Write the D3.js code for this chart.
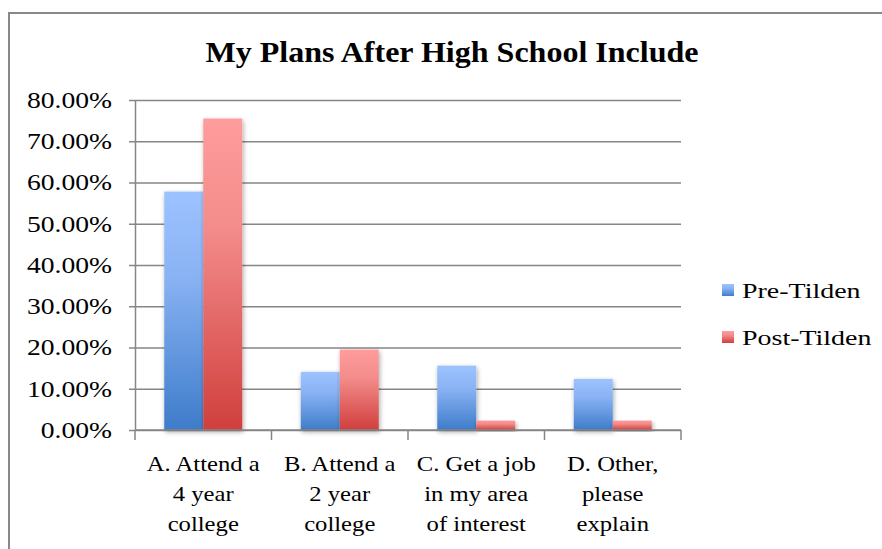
<!DOCTYPE html>
<html>
  <head>
    <meta charset="utf-8" />
    <script src="https://d3js.org/d3.v7.min.js"></script>
    <title>My Plans After High School Include</title>
    <style>
      body { margin: 0; background: #fff; }
      text { font-family: "Liberation Serif", "DejaVu Serif", serif; fill: #000; }
      .grid line { stroke: #868686; stroke-width: 1.5px; }
      .axis path, .axis line { stroke: #868686; stroke-width: 1.5px; }
    </style>
  </head>
  <body>

    <svg id="chart" width="882" height="549"></svg>

    <script>

      var categories = [
        ["A. Attend a", "4 year", "college"],
        ["B. Attend a", "2 year", "college"],
        ["C. Get a job", "in my area", "of interest"],
        ["D. Other,", "please", "explain"]
      ];
      var seriesNames = ["Pre-Tilden", "Post-Tilden"];
      var preTilden = [0.578, 0.141, 0.156, 0.124];
      var postTilden = [0.755, 0.195, 0.023, 0.023];
      var yTicks = [0, 0.1, 0.2, 0.3, 0.4, 0.5, 0.6, 0.7, 0.8];

      var svg = d3.select("#chart");

      // the original font is wider than Liberation Serif, so stretch texts a bit
      function widen(sel, factor) {
        sel.each(function() {
          var w = this.getComputedTextLength();
          d3.select(this)
            .attr("textLength", w * factor)
            .attr("lengthAdjust", "spacingAndGlyphs");
        });
      }

      // outer frame (only top/left edge visible in the original)
      svg.append("rect")
        .attr("x", 9).attr("y", 13)
        .attr("width", 900).attr("height", 600)
        .attr("fill", "none")
        .attr("stroke", "#888")
        .attr("stroke-width", 2);

      var plotLeft = 135, plotRight = 681, plotTop = 100, plotBottom = 430;

      var x = d3.scaleBand()
        .domain(d3.range(categories.length))
        .range([plotLeft, plotRight]);
      // Excel gap width 150%: 2 bars of width w and a gap of 1.5w per category
      var catW = x.bandwidth();
      var barW = catW / 3.5;

      var y = d3.scaleLinear().domain([0, 0.8]).range([plotBottom, plotTop]);

      var defs = svg.append("defs");
      var g1 = defs.append("linearGradient").attr("id", "gradBlue")
        .attr("x1", 0).attr("y1", 0).attr("x2", 0).attr("y2", 1);
      g1.append("stop").attr("offset", "0%").attr("stop-color", "#9dc3ff");
      g1.append("stop").attr("offset", "35%").attr("stop-color", "#8ab3f4");
      g1.append("stop").attr("offset", "100%").attr("stop-color", "#3e7cca");
      var g2 = defs.append("linearGradient").attr("id", "gradRed")
        .attr("x1", 0).attr("y1", 0).attr("x2", 0).attr("y2", 1);
      g2.append("stop").attr("offset", "0%").attr("stop-color", "#ff9c9c");
      g2.append("stop").attr("offset", "35%").attr("stop-color", "#f38c8b");
      g2.append("stop").attr("offset", "100%").attr("stop-color", "#d03f3d");

      var shadow = defs.append("filter").attr("id", "shadow")
        .attr("x", "-20%").attr("y", "-10%").attr("width", "150%").attr("height", "130%");
      shadow.append("feGaussianBlur").attr("in", "SourceAlpha").attr("stdDeviation", 2.5);
      shadow.append("feOffset").attr("dx", 1).attr("dy", 2).attr("result", "blur");
      shadow.append("feComponentTransfer").append("feFuncA").attr("type", "linear").attr("slope", 0.35);
      var merge = shadow.append("feMerge");
      merge.append("feMergeNode");
      merge.append("feMergeNode").attr("in", "SourceGraphic");

      // gridlines
      svg.append("g")
        .attr("class", "grid")
        .attr("transform", "translate(" + plotLeft + ",0)")
        .call(d3.axisLeft(y).tickValues(yTicks).tickSize(-(plotRight - plotLeft)).tickFormat(""))
        .call(function(g) { g.select(".domain").remove(); });

      // y axis
      svg.append("g")
        .attr("class", "axis")
        .attr("transform", "translate(" + plotLeft + ",0)")
        .call(d3.axisLeft(y).tickValues(yTicks).tickSize(6).tickSizeOuter(0).tickPadding(17)
          .tickFormat(function(d) { return (d * 100).toFixed(2) + "%"; }))
        .selectAll("text")
        .attr("font-size", 23)
        .attr("font-family", "Liberation Serif, DejaVu Serif, serif")
        .call(widen, 1.2);

      // bars
      var groups = svg.append("g").selectAll("g")
        .data(categories.map(function(c, i) { return [preTilden[i], postTilden[i]]; }))
        .enter().append("g")
        .attr("transform", function(d, i) { return "translate(" + x(i) + ",0)"; });

      groups.selectAll("rect")
        .data(function(d) { return d; })
        .enter().append("rect")
        .attr("x", function(d, j) { return barW * 0.75 + j * barW; })
        .attr("y", function(d) { return y(d); })
        .attr("width", barW)
        .attr("height", function(d) { return y(0) - y(d); })
        .attr("fill", function(d, j) { return j === 0 ? "url(#gradBlue)" : "url(#gradRed)"; })
        .attr("filter", "url(#shadow)");

      // x axis with category boundary ticks
      var xAxis = svg.append("g").attr("class", "axis");
      xAxis.append("line")
        .attr("x1", plotLeft).attr("x2", plotRight)
        .attr("y1", plotBottom).attr("y2", plotBottom);
      xAxis.selectAll(".tk")
        .data(d3.range(categories.length + 1))
        .enter().append("line")
        .attr("class", "tk")
        .attr("x1", function(i) { return plotLeft + i * catW; })
        .attr("x2", function(i) { return plotLeft + i * catW; })
        .attr("y1", plotBottom).attr("y2", plotBottom + 10);

      var labels = svg.append("g").selectAll("text")
        .data(categories)
        .enter().append("text")
        .attr("text-anchor", "middle")
        .attr("font-size", 22)
        .attr("x", function(d, i) { return x(i) + catW / 2; })
        .attr("y", 471);
      labels.selectAll("tspan")
        .data(function(d) { return d; })
        .enter().append("tspan")
        .attr("x", function() { return d3.select(this.parentNode).attr("x"); })
        .attr("dy", function(d, k) { return k === 0 ? 0 : 30; })
        .text(function(d) { return d; })
        .call(widen, 1.12);

      // title
      svg.append("text")
        .attr("x", 452).attr("y", 62)
        .attr("text-anchor", "middle")
        .attr("font-size", 30)
        .attr("font-weight", "bold")
        .attr("textLength", 493)
        .attr("lengthAdjust", "spacingAndGlyphs")
        .text("My Plans After High School Include");

      // legend
      var legend = svg.append("g").selectAll("g")
        .data(seriesNames)
        .enter().append("g")
        .attr("transform", function(d, i) { return "translate(722," + (284 + i * 47) + ")"; });
      legend.append("rect")
        .attr("width", 12).attr("height", 12)
        .attr("fill", function(d, i) { return i === 0 ? "url(#gradBlue)" : "url(#gradRed)"; });
      legend.append("text")
        .attr("x", 20).attr("y", 14)
        .attr("font-size", 22)
        .text(function(d) { return d; })
        .call(widen, 1.27);

    </script>

  </body>
</html>
